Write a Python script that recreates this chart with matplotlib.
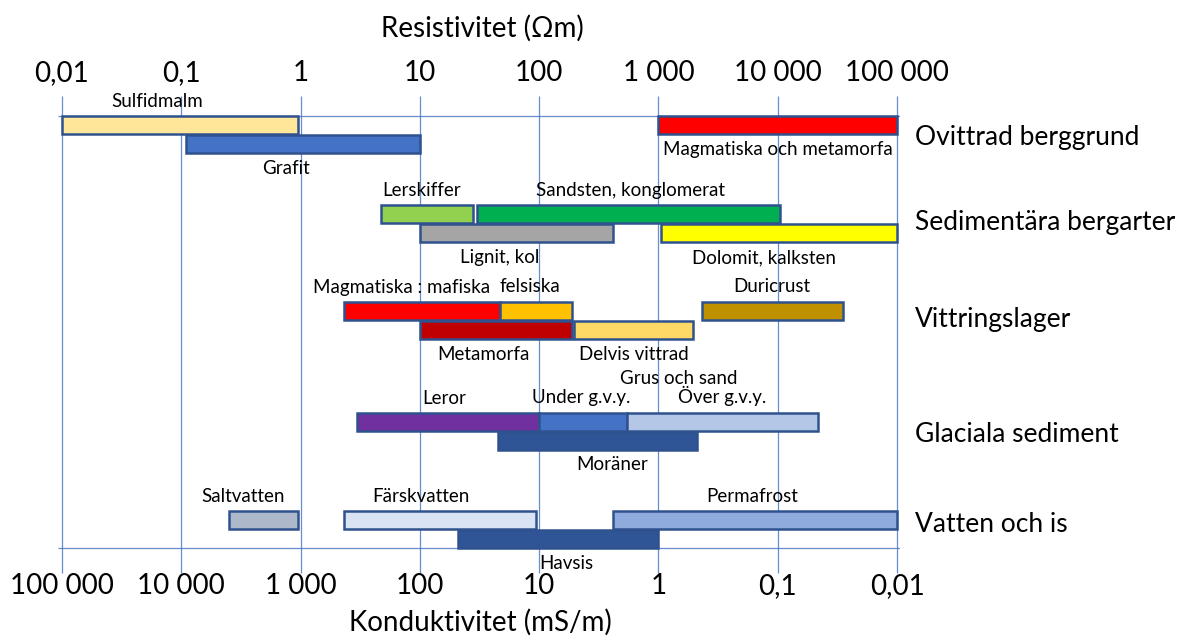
import matplotlib
matplotlib.use("Agg")
import matplotlib.pyplot as plt
import numpy as np

plt.rcParams['font.family'] = ['Lato', 'DejaVu Sans']

# ---- data ----
materials = ["Sulfidmalm", "Grafit", "Magmatiska och metamorfa",
             "Lerskiffer", "Sandsten, konglomerat", "Lignit, kol", "Dolomit, kalksten",
             "Magmatiska : mafiska", "felsiska", "Metamorfa", "Delvis vittrad", "Duricrust",
             "Leror", "Under g.v.y.", "Över g.v.y.", "Moräner",
             "Saltvatten", "Färskvatten", "Permafrost", "Havsis"]
r_min = [0.01, 0.11, 1000,
         4.7, 30, 10, 1050,
         2.3, 47, 10, 195, 2300,
         3.0, 100, 545, 45,
         0.25, 2.3, 420, 21]
r_max = [0.95, 10, 100000,
         28, 10500, 415, 100000,
         47, 188, 188, 1950, 35000,
         100, 545, 21700, 2100,
         0.95, 95, 100000, 990]
colors = ["#FFE699", "#4472C4", "#FF0000",
          "#92D050", "#00B050", "#A5A5A5", "#FFFF00",
          "#FF0000", "#FFC000", "#C00000", "#FFD966", "#BF9000",
          "#7030A0", "#4472C4", "#B4C7E7", "#2F5597",
          "#ADB9CA", "#DAE3F3", "#8FAADC", "#2F5597"]
group = [0, 0, 0, 1, 1, 1, 1, 2, 2, 2, 2, 2, 3, 3, 3, 3, 4, 4, 4, 4]
row = [0, 1, 0, 0, 0, 1, 1, 0, 0, 1, 1, 0, 0, 0, 0, 1, 0, 0, 0, 1]
categories = ["Ovittrad berggrund", "Sedimentära bergarter", "Vittringslager",
              "Glaciala sediment", "Vatten och is"]
res_ticks = [0.01, 0.1, 1, 10, 100, 1000, 10000, 100000]
res_labels = ["0,01", "0,1", "1", "10", "100", "1 000", "10 000", "100 000"]
cond_labels = ["100 000", "10 000", "1 000", "100", "10", "1", "0,1", "0,01"]

# ---- layout (pixel-based y coordinates) ----
W, H = 1189, 641
group_y = [125, 214, 310.5, 421.5, 520]
cat_y = [138, 222, 320, 434, 524]
row_dy = 19
bar_h = 18
# label placement: (dx pixels from bar centre, position 'a'bove/'b'elow)
lab_dx = [-23, -17, 0, -5, 2, -17, -15, -20, -6, -12, 0, 0, -4, -2, 0, 15, -20, -19, -3, 8]
lab_pos = ['a', 'b', 'b', 'a', 'a', 'b', 'b', 'a', 'a', 'b', 'b', 'a', 'a', 'a', 'a', 'b', 'a', 'a', 'a', 'b']

fig = plt.figure(figsize=(W / 100, H / 100), dpi=100)
x0, x1 = 58, 900
ax = fig.add_axes([x0 / W, 0, (x1 - x0) / W, 1])
dec = 119.3
ax.set_xscale('log')
ax.set_xlim(10 ** (-2 - 4 / dec), 10 ** (5 + 3 / dec))
ax.set_ylim(H, 0)
ax.axis('off')

grid_c = "#4472C4"
ax.vlines(res_ticks, 96, 573, color=grid_c, lw=0.9, alpha=0.8, zorder=1)
ax.hlines([116, 548], 10 ** (-2 - 4 / dec), 10 ** (5 + 3 / dec), color=grid_c, lw=0.9, alpha=0.8, zorder=1)

lab_fs = 13.5
for i, name in enumerate(materials):
    y = group_y[group[i]] + row[i] * row_dy
    ax.barh(y, r_max[i] - r_min[i], left=r_min[i], height=bar_h, color=colors[i],
            edgecolor="#2F528F", linewidth=1.8, zorder=3)
    xc = np.sqrt(r_min[i] * r_max[i])
    if lab_pos[i] == 'a':
        ty, va = y - bar_h / 2 - 6, 'bottom'
    else:
        ty, va = y + bar_h / 2 + 7, 'top'
    ax.annotate(name, (xc, ty), xytext=(lab_dx[i], 0), textcoords='offset pixels',
                ha='center', va=va, fontsize=lab_fs, zorder=4)

# "Grus och sand" header above the Under/Över labels
gi = materials.index("Under g.v.y.")
go = materials.index("Över g.v.y.")
ax.annotate("Grus och sand", (np.sqrt(r_min[gi] * r_max[go]), group_y[3] - bar_h / 2 - 25),
            xytext=(0, 0), textcoords='offset pixels', ha='center', va='bottom', fontsize=lab_fs)

for t, lab in zip(res_ticks, res_labels):
    ax.text(t, 73, lab, ha='center', va='center', fontsize=20)
for t, lab in zip(res_ticks, cond_labels):
    ax.text(t, 586, lab, ha='center', va='center', fontsize=20)

fig.text(482 / W, 1 - 28 / H, "Resistivitet (Ωm)", ha='center', va='center', fontsize=20)
fig.text(480 / W, 1 - 622 / H, "Konduktivitet (mS/m)", ha='center', va='center', fontsize=20)

for c, y in zip(categories, cat_y):
    fig.text(915 / W, 1 - y / H, c, ha='left', va='center', fontsize=19)

fig.savefig("out.png", dpi=100)
